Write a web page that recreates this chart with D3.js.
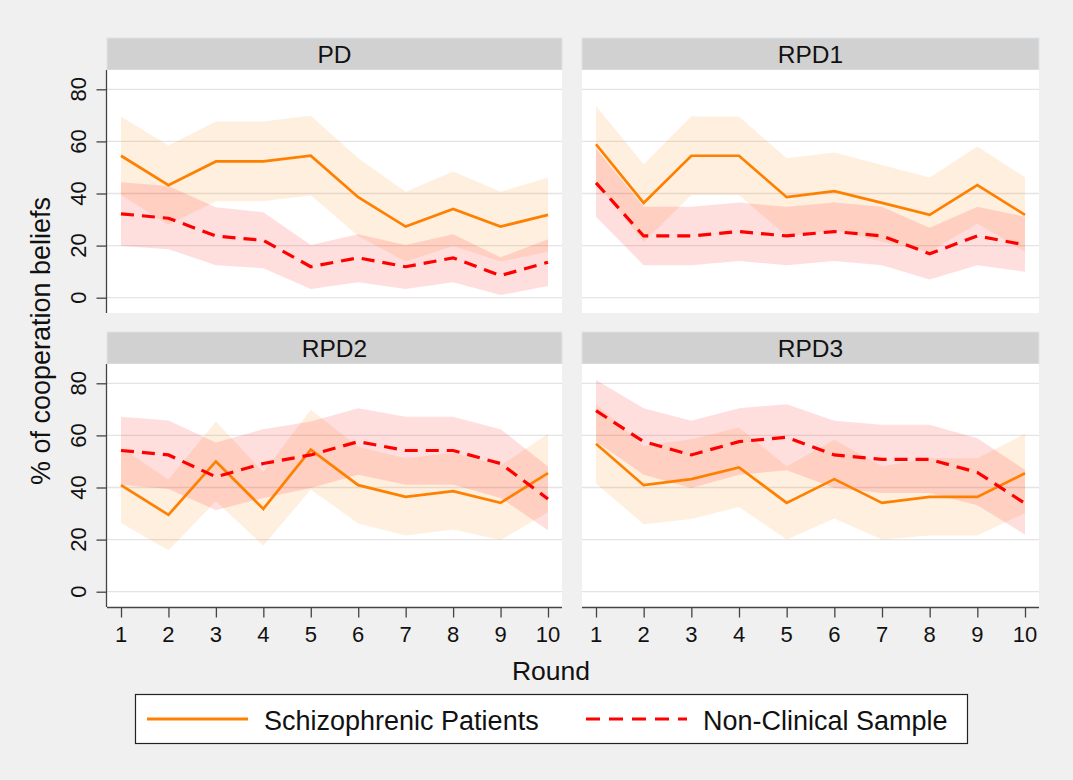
<!DOCTYPE html>
<html>
  <head>
    <title>Cooperation beliefs</title>
    <script src="https://d3js.org/d3.v7.min.js"></script>
    <style>
      body { margin: 0; background: #f0f0f0; }
      text { font-family: "Liberation Sans", Arial, sans-serif; fill: #111; }
    </style>
  </head>
  <body>
  </body>
</html>

<script>
  // data (percent), one row per game
  var rounds = [1, 2, 3, 4, 5, 6, 7, 8, 9, 10];
  var games = ["PD", "RPD1", "RPD2", "RPD3"];
  var yTicks = [0, 20, 40, 60, 80];

  var schizMean = [
    [54.5, 43.2, 52.3, 52.3, 54.5, 38.6, 27.3, 34.1, 27.3, 31.8],
    [58.9, 36.4, 54.5, 54.5, 38.6, 40.9, 36.4, 31.8, 43.2, 31.8],
    [40.9, 29.5, 50.0, 31.8, 54.5, 40.9, 36.4, 38.6, 34.1, 45.5],
    [56.8, 40.9, 43.2, 47.7, 34.1, 43.2, 34.1, 36.4, 36.4, 45.5]
  ];
  var schizLo = [
    [39.4, 28.0, 37.0, 37.0, 39.3, 23.7, 13.9, 19.8, 13.9, 17.6],
    [44.2, 21.4, 39.4, 39.4, 23.7, 26.0, 21.5, 17.6, 28.5, 17.6],
    [26.4, 15.9, 34.7, 17.7, 39.2, 26.2, 21.6, 23.9, 19.8, 30.5],
    [41.5, 25.9, 27.9, 32.5, 20.0, 28.1, 20.0, 21.6, 21.6, 30.2]
  ];
  var schizHi = [
    [69.6, 58.4, 67.6, 67.6, 69.8, 53.5, 40.7, 48.4, 40.7, 46.0],
    [73.6, 51.2, 69.6, 69.6, 53.5, 55.7, 50.9, 46.1, 58.0, 46.2],
    [55.4, 43.1, 65.3, 45.9, 69.8, 55.6, 51.2, 53.3, 48.4, 60.6],
    [72.1, 55.9, 58.5, 63.0, 48.2, 58.3, 48.2, 51.2, 51.2, 60.6]
  ];

  var nonclinMean = [
    [32.2, 30.5, 23.7, 22.0, 11.9, 15.3, 11.9, 15.3, 8.5, 13.6],
    [44.1, 23.7, 23.7, 25.4, 23.7, 25.4, 23.7, 16.9, 23.7, 20.3],
    [54.2, 52.5, 44.1, 49.2, 52.5, 57.6, 54.2, 54.2, 49.2, 35.6],
    [69.5, 57.6, 52.5, 57.6, 59.3, 52.5, 50.8, 50.8, 45.8, 33.9]
  ];
  var nonclinLo = [
    [19.8, 18.6, 12.5, 11.3, 3.3, 5.9, 3.3, 5.9, 1.0, 4.5],
    [31.1, 12.5, 12.5, 14.1, 12.5, 14.1, 12.5, 7.0, 12.5, 10.0],
    [41.1, 39.4, 31.3, 36.0, 39.8, 44.9, 41.1, 41.1, 36.0, 23.6],
    [57.7, 44.9, 39.8, 44.9, 46.6, 39.8, 37.9, 37.9, 33.2, 21.9]
  ];
  var nonclinHi = [
    [44.3, 42.9, 34.7, 32.8, 20.2, 24.4, 20.2, 24.4, 15.5, 22.4],
    [57.3, 34.9, 34.9, 36.5, 34.9, 36.5, 34.9, 26.9, 34.9, 31.1],
    [67.2, 65.7, 57.3, 62.4, 65.3, 70.4, 67.2, 67.2, 62.4, 48.1],
    [81.3, 70.4, 65.6, 70.4, 72.0, 65.6, 64.1, 64.1, 58.9, 46.8]
  ];

  var orange = "#ff8000", red = "#ff0000";

  var svg = d3.select("body").append("svg")
              .attr("width", 1073)
              .attr("height", 780);

  svg.append("rect").attr("width", 1073).attr("height", 780).attr("fill", "#f0f0f0");

  // panel boxes: strip on top, plot area under it
  var cols = [[107, 562], [582, 1039]];
  var rows = [38, 332];
  var stripH = 32, plotH = 243;

  games.forEach(function(name, i) {
    var c = cols[i % 2], top = rows[Math.floor(i / 2)];
    var pTop = top + stripH;
    var g = svg.append("g");

    var x = d3.scaleLinear().domain([1, 10]).range([c[0] + 14, c[1] - 14]);
    var y = d3.scaleLinear().domain([0, 80]).range([pTop + 227.7, pTop + 19.3]);

    // strip
    g.append("rect")
     .attr("x", c[0]).attr("y", top)
     .attr("width", c[1] - c[0]).attr("height", stripH)
     .attr("fill", "#d1d1d1")
     .attr("stroke", "#dde4ea").attr("stroke-width", 1);
    g.append("text")
     .attr("x", (c[0] + c[1]) / 2).attr("y", top + 24.7)
     .attr("text-anchor", "middle")
     .style("font-size", "24.5px")
     .text(name);

    // plot area
    g.append("rect")
     .attr("x", c[0]).attr("y", pTop)
     .attr("width", c[1] - c[0]).attr("height", plotH)
     .attr("fill", "white");

    g.selectAll(".grid")
     .data(yTicks)
     .enter()
     .append("line")
     .attr("x1", c[0]).attr("x2", c[1])
     .attr("y1", function(d) { return y(d); })
     .attr("y2", function(d) { return y(d); })
     .attr("stroke", "#e4e4e4")
     .attr("stroke-width", 1.3);

    var area = d3.area()
                 .x(function(d, k) { return x(rounds[k]); })
                 .y0(function(d) { return y(d[0]); })
                 .y1(function(d) { return y(d[1]); });
    var line = d3.line()
                 .x(function(d, k) { return x(rounds[k]); })
                 .y(function(d) { return y(d); });

    g.append("path")
     .attr("d", area(d3.zip(schizLo[i], schizHi[i])))
     .attr("fill", orange).attr("fill-opacity", 0.13);
    g.append("path")
     .attr("d", area(d3.zip(nonclinLo[i], nonclinHi[i])))
     .attr("fill", red).attr("fill-opacity", 0.13);

    g.append("path")
     .attr("d", line(schizMean[i]))
     .attr("fill", "none").attr("stroke", orange).attr("stroke-width", 2.7);
    g.append("path")
     .attr("d", line(nonclinMean[i]))
     .attr("fill", "none").attr("stroke", red).attr("stroke-width", 3.2)
     .attr("stroke-dasharray", "13,8");

    // y axis on the left column
    if (i % 2 === 0) {
      var ya = g.append("g")
                .attr("transform", "translate(" + (c[0] - 0.5) + ",0)")
                .call(d3.axisLeft(y).tickValues(yTicks).tickSize(10).tickSizeOuter(0).tickFormat(""));
      ya.select(".domain").attr("d", "M0," + pTop + "V" + (pTop + plotH)).attr("stroke", "#444").attr("stroke-width", 1.3);
      ya.selectAll(".tick line").attr("stroke", "#444").attr("stroke-width", 1.3);
      g.selectAll(".ylab")
       .data(yTicks)
       .enter()
       .append("text")
       .attr("transform", function(d) { return "translate(85.5," + y(d) + ") rotate(-90)"; })
       .attr("text-anchor", "middle")
       .style("font-size", "22px")
       .text(function(d) { return d; });
    }

    // x axis on the bottom row
    if (i >= 2) {
      var xa = g.append("g")
                .attr("transform", "translate(0," + (pTop + plotH + 0.5) + ")")
                .call(d3.axisBottom(x).tickValues(rounds).tickSize(10).tickSizeOuter(0).tickFormat(""));
      xa.select(".domain").attr("d", "M" + c[0] + ",0H" + c[1]).attr("stroke", "#444").attr("stroke-width", 1.3);
      xa.selectAll(".tick line").attr("stroke", "#444").attr("stroke-width", 1.3);
      g.selectAll(".xlab")
       .data(rounds)
       .enter()
       .append("text")
       .attr("x", function(d) { return x(d); })
       .attr("y", 641.5)
       .attr("text-anchor", "middle")
       .style("font-size", "22px")
       .text(function(d) { return d; });
    }
  });

  // axis titles
  svg.append("text")
     .attr("transform", "translate(49.5,341) rotate(-90)")
     .attr("text-anchor", "middle")
     .style("font-size", "27px")
     .text("% of cooperation beliefs");
  svg.append("text")
     .attr("x", 551).attr("y", 680)
     .attr("text-anchor", "middle")
     .style("font-size", "26.5px")
     .text("Round");

  // legend
  var legend = svg.append("g");
  legend.append("rect")
        .attr("x", 135.5).attr("y", 694.5)
        .attr("width", 832).attr("height", 49)
        .attr("fill", "white").attr("stroke", "#222").attr("stroke-width", 1.2);
  var keys = [
    {label: "Schizophrenic Patients", color: orange, dash: null, x: 147},
    {label: "Non-Clinical Sample", color: red, dash: "14,9", x: 586}
  ];
  keys.forEach(function(k) {
    legend.append("line")
          .attr("x1", k.x).attr("x2", k.x + 101)
          .attr("y1", 719).attr("y2", 719)
          .attr("stroke", k.color).attr("stroke-width", 3.2)
          .attr("stroke-dasharray", k.dash);
    legend.append("text")
          .attr("x", k.x + 117).attr("y", 730)
          .style("font-size", "27px")
          .text(k.label);
  });
</script>
